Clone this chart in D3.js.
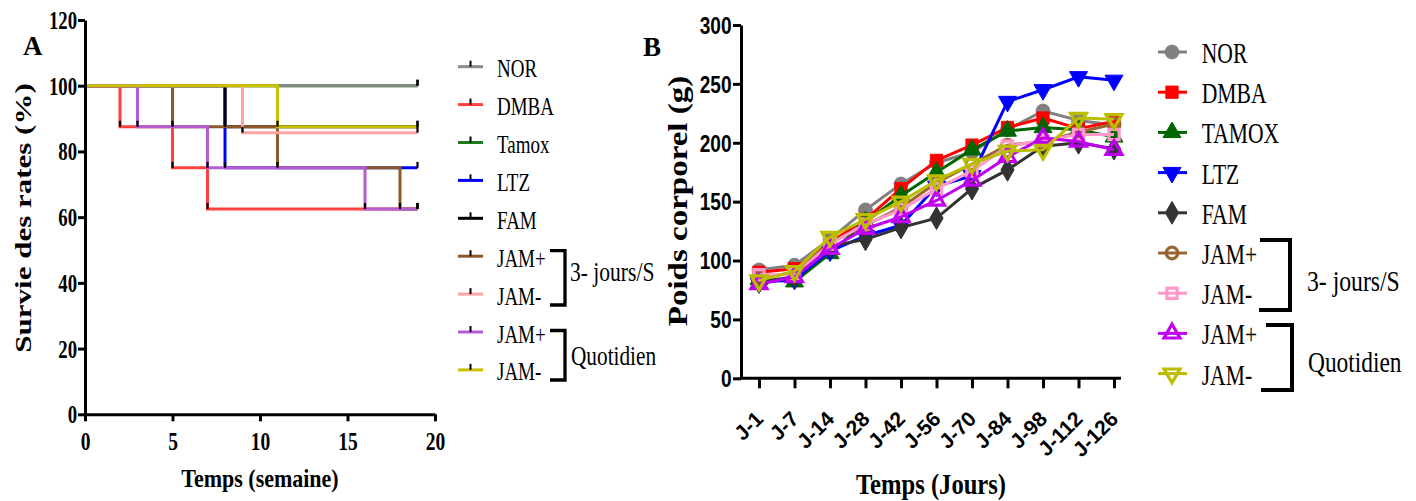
<!DOCTYPE html>
<html><head><meta charset="utf-8">
<script src="https://cdn.jsdelivr.net/npm/d3@7"></script>
<style>body{margin:0;background:#fff}svg{display:block}</style>
</head><body>
<svg id="c" width="1416" height="501"></svg>
<script>
// ---------- Panel A data (Kaplan-Meier steps: [week, survival %]) ----------
const survNOR   = [[0,100],[19,100]];
const survDMBA  = [[0,100],[2,87.5],[5,75],[7,62.5],[19,62.5]];
const survTamox = [[0,100],[19,100]];
const survLTZ   = [[0,100],[8,75],[19,75]];
const survFAM   = [[0,100],[8,87.5],[19,87.5]];
const survJAMp3 = [[0,100],[5,87.5],[11,75],[18,62.5],[19,62.5]];
const survJAMm3 = [[0,100],[9,85.7],[19,85.7]];
const survJAMpQ = [[0,100],[3,87.5],[7,75],[16,62.5],[19,62.5]];
const survJAMmQ = [[0,100],[11,87.5],[19,87.5]];
const yTicksA = [0,20,40,60,80,100,120];
const xTicksA = [0,5,10,15,20];
const legendA = ["NOR","DMBA","Tamox","LTZ","FAM","JAM+","JAM-","JAM+","JAM-"];

// ---------- Panel B data (body weight, g) ----------
const days   = ["J-1","J-7","J-14","J-28","J-42","J-56","J-70","J-84","J-98","J-112","J-126"];
const wNOR   = [92, 96, 118, 143, 165, 183, 192, 211, 227, 219, 215];
const wDMBA  = [90, 93, 115, 135, 161, 185, 198, 213, 221, 212, 218];
const wTAMOX = [84, 82, 106, 133, 155, 175, 194, 210, 213, 211, 205];
const wLTZ   = [81, 84, 108, 121, 130, 163, 172, 235, 245, 256, 253];
const wFAM   = [82, 86, 112, 118, 128, 136, 161, 177, 197, 200, 195];
const wJAMp3 = [85, 90, 115, 130, 145, 166, 182, 198, 201, 209, 216];
const wJAMm3 = [88, 88, 114, 131, 143, 161, 176, 197, 202, 207, 207];
const wJAMpQ = [80, 86, 110, 127, 137, 151, 168, 188, 204, 201, 194];
const wJAMmQ = [83, 91, 120, 135, 150, 168, 182, 193, 194, 221, 220];
const yTicksB = [0,50,100,150,200,250,300];
const legendB = ["NOR","DMBA","TAMOX","LTZ","FAM","JAM+","JAM-","JAM+","JAM-"];
const groupLabels = ["3- jours/S","Quotidien"];

const serif = "'Liberation Serif','Times New Roman',serif";
const sans  = "'Liberation Sans',Arial,sans-serif";
const svg = d3.select("#c");

function txt(p, x, y, s, o = {}) {
  let tr = `translate(${x},${y})`;
  if (o.rot) tr += ` rotate(${o.rot})`;
  tr += ` scale(${o.sx || 1},${o.sy || 1})`;
  return p.append("text").attr("transform", tr)
    .attr("text-anchor", o.anchor || "start")
    .attr("font-family", o.family || serif)
    .attr("font-size", o.size || 20)
    .attr("font-weight", o.weight || "normal")
    .attr("fill", "#000").text(s);
}

// ================= PANEL A =================
const xA = d3.scaleLinear([0, 20], [85, 435]);
const yA = d3.scaleLinear([0, 120], [414.3, 20]);

const seriesA = [
  {d: survTamox, c: "#1e7b1e"},
  {d: survNOR,   c: "#8a8a8a"},
  {d: survDMBA,  c: "#ff4040"},
  {d: survLTZ,   c: "#0000ff"},
  {d: survFAM,   c: "#000000"},
  {d: survJAMp3, c: "#8c5a2a"},
  {d: survJAMm3, c: "#ffa3a3"},
  {d: survJAMpQ, c: "#b45cd2"},
  {d: survJAMmQ, c: "#c8c000"}
];
const colorsA = ["#8a8a8a","#ff4040","#1e7b1e","#0000ff","#000000","#8c5a2a","#ffa3a3","#b45cd2","#c8c000"];

const stepLine = d3.line().curve(d3.curveStepAfter).x(d => xA(d[0])).y(d => yA(d[1]));
const gA = svg.append("g");
seriesA.forEach(s => {
  gA.append("path").attr("d", stepLine(s.d)).attr("fill", "none")
    .attr("stroke", s.c).attr("stroke-width", 3);
});
// censor / event ticks
seriesA.forEach(s => {
  s.d.slice(1).forEach(p => {
    gA.append("line").attr("x1", xA(p[0])).attr("x2", xA(p[0]))
      .attr("y1", yA(p[1]) - 6).attr("y2", yA(p[1]))
      .attr("stroke", "#000").attr("stroke-width", 2.2);
  });
});

const axAy = svg.append("g").attr("transform", "translate(85,0)")
  .call(d3.axisLeft(yA).tickValues(yTicksA).tickSize(7).tickSizeOuter(0).tickPadding(1));
const axAx = svg.append("g").attr("transform", `translate(0,${yA(0)})`)
  .call(d3.axisBottom(xA).tickValues(xTicksA).tickSize(7).tickSizeOuter(0).tickPadding(10));
[axAy, axAx].forEach(g => {
  g.select(".domain").attr("stroke-width", 3);
  g.selectAll(".tick line").attr("stroke-width", 3);
});
axAy.selectAll(".tick text").attr("font-family", serif).attr("font-weight", "bold")
  .attr("font-size", 25).attr("transform", "scale(0.75,1)").attr("x", -8 / 0.75).attr("dy", "0.34em");
axAx.selectAll(".tick text").attr("font-family", serif).attr("font-weight", "bold")
  .attr("font-size", 26).attr("transform", "scale(0.75,1)");

txt(svg, 23, 55, "A", {size: 27, weight: "bold"});
txt(svg, 31, 218, "Survie des rates (%)", {rot: -90, anchor: "middle", size: 31, weight: "bold", sy: 0.75});
txt(svg, 260, 487, "Temps (semaine)", {anchor: "middle", size: 25, weight: "bold", sx: 0.88});

// legend A
legendA.forEach((name, i) => {
  const y = 66.7 + 37.9 * i;
  svg.append("line").attr("x1", 458).attr("x2", 483).attr("y1", y).attr("y2", y)
    .attr("stroke", colorsA[i]).attr("stroke-width", 3);
  svg.append("line").attr("x1", 470.5).attr("x2", 470.5).attr("y1", y - 6).attr("y2", y)
    .attr("stroke", "#000").attr("stroke-width", 2);
  txt(svg, 497, y + 10.5, name, {size: 26, sx: 0.73});
});
svg.append("path").attr("d", "M550,250.7H565V305H550").attr("fill", "none").attr("stroke", "#000").attr("stroke-width", 3.3);
svg.append("path").attr("d", "M550,330.5H565V380H550").attr("fill", "none").attr("stroke", "#000").attr("stroke-width", 3.3);
txt(svg, 570, 281, groupLabels[0], {size: 28, sx: 0.77});
txt(svg, 571, 365, groupLabels[1], {size: 28, sx: 0.76});

// ================= PANEL B =================
const xB = d3.scalePoint(days, [759, 1114]);
const yB = d3.scaleLinear([0, 300], [378.3, 25]);

const seriesB = [
  {v: wNOR,   c: "#808080", s: d3.symbolCircle,   r: 0,   open: false, size: 150},
  {v: wDMBA,  c: "#ff0000", s: d3.symbolSquare,   r: 0,   open: false, size: 150},
  {v: wTAMOX, c: "#006600", s: d3.symbolTriangle, r: 0,   open: false, size: 140},
  {v: wLTZ,   c: "#0000ff", s: d3.symbolTriangle, r: 180, open: false, size: 140},
  {v: wFAM,   c: "#333333", s: d3.symbolDiamond,  r: 0,   open: false, size: 150},
  {v: wJAMp3, c: "#996633", s: d3.symbolCircle,   r: 0,   open: true,  size: 105},
  {v: wJAMm3, c: "#ff99cc", s: d3.symbolSquare,   r: 0,   open: true,  size: 105},
  {v: wJAMpQ, c: "#c000f0", s: d3.symbolTriangle, r: 0,   open: true,  size: 110},
  {v: wJAMmQ, c: "#bdbd00", s: d3.symbolTriangle, r: 180, open: true,  size: 110}
];

const lineB = d3.line().x((d, i) => xB(days[i])).y(d => yB(d));
const gB = svg.append("g");
function marker(p, x, y, s) {
  p.append("path").attr("d", d3.symbol(s.s, s.size)())
    .attr("transform", `translate(${x},${y}) rotate(${s.r})`)
    .attr("fill", s.open ? "none" : s.c)
    .attr("stroke", s.c).attr("stroke-width", s.open ? 3.2 : 1);
}
seriesB.forEach(s => {
  gB.append("path").attr("d", lineB(s.v)).attr("fill", "none")
    .attr("stroke", s.c).attr("stroke-width", 3).attr("stroke-linejoin", "round");
  s.v.forEach((v, i) => marker(gB, xB(days[i]), yB(v), s));
});

const axBy = svg.append("g").attr("transform", "translate(741,0)")
  .call(d3.axisLeft(yB).tickValues(yTicksB).tickSize(8).tickSizeOuter(0).tickPadding(1.5));
const axBx = svg.append("g").attr("transform", `translate(0,${yB(0)})`)
  .call(d3.axisBottom(xB).tickSize(10).tickSizeOuter(0));
axBx.select(".domain").remove();
svg.append("line").attr("x1", 741).attr("x2", 1121).attr("y1", yB(0)).attr("y2", yB(0))
  .attr("stroke", "#000").attr("stroke-width", 3);
[axBy, axBx].forEach(g => {
  g.select(".domain").attr("stroke-width", 3);
  g.selectAll(".tick line").attr("stroke-width", 3);
});
axBy.selectAll(".tick text").attr("font-family", sans).attr("font-weight", "bold")
  .attr("font-size", 23).attr("transform", "scale(0.83,1)").attr("x", -9.5 / 0.83).attr("dy", "0.36em");
axBx.selectAll(".tick text").attr("font-family", sans).attr("font-weight", "bold")
  .attr("font-size", 21).attr("x", null).attr("y", null).attr("dy", null)
  .attr("text-anchor", "end").attr("transform", "translate(5,42) rotate(-45)");

txt(svg, 643, 56, "B", {size: 27, weight: "bold"});
txt(svg, 687, 201, "Poids corporel (g)", {rot: -90, anchor: "middle", size: 33, weight: "bold", sy: 0.85});
txt(svg, 931, 494, "Temps (Jours)", {anchor: "middle", size: 30, weight: "bold", sx: 0.82});

// legend B
legendB.forEach((name, i) => {
  const y = 52 + 40.2 * i;
  const s = seriesB[i];
  svg.append("line").attr("x1", 1158).attr("x2", 1187).attr("y1", y).attr("y2", y)
    .attr("stroke", s.c).attr("stroke-width", 3);
  marker(svg, 1172, y, s);
  txt(svg, 1201.7, y + 11, name, {size: 30, sx: 0.72});
});
svg.append("path").attr("d", "M1260,240H1290V310H1259").attr("fill", "none").attr("stroke", "#000").attr("stroke-width", 4);
svg.append("path").attr("d", "M1266,325H1292V390H1261").attr("fill", "none").attr("stroke", "#000").attr("stroke-width", 4);
txt(svg, 1307, 291, groupLabels[0], {size: 30, sx: 0.79});
txt(svg, 1308, 372, groupLabels[1], {size: 30, sx: 0.78});
</script>
</body></html>
